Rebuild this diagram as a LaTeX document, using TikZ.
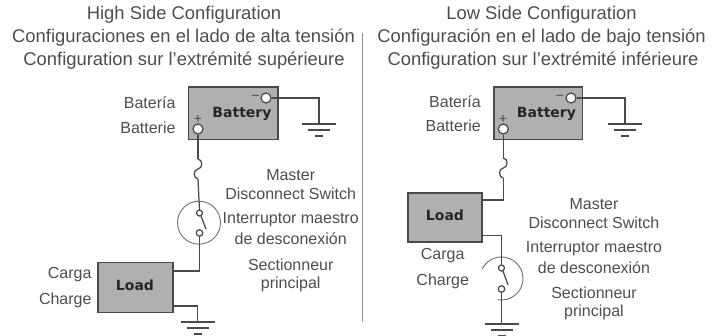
\documentclass[tikz,border=0pt]{standalone}
\usepackage{fontspec}
\setmainfont{Liberation Sans}
\newfontfamily\boxfont{DejaVu Sans Bold}
\definecolor{wire}{HTML}{4A4A4A}
\definecolor{boxfill}{HTML}{B0B0B0}
\definecolor{txt}{HTML}{4D4D4D}
\tikzset{
  wirel/.style={draw=wire,line width=1.25pt},
  devbox/.style={draw=wire,fill=boxfill,line width=1.25pt,rectangle,inner sep=0pt},
  term/.style={circle,draw=wire,fill=white,line width=1.25pt,inner sep=0pt,minimum size=#1},
  lab/.style={text=txt,font=\fontsize{16}{18}\selectfont,inner sep=0pt,align=center},
  ttl/.style={text=txt,font=\fontsize{18.4}{20}\selectfont,inner sep=0pt,align=center},
  boxlab/.style={text=black!85,font=\boxfont\fontsize{14}{16}\selectfont,inner sep=0pt},
  sign/.style={text=txt,font=\fontsize{14}{14}\selectfont,inner sep=0pt},
}
\newcommand{\gnd}[2]{%
  \draw[wirel] (#1-17,#2) -- (#1+17,#2);
  \draw[wirel] (#1-11,#2+6) -- (#1+11,#2+6);
  \draw[wirel] (#1-4,#2+12) -- (#1+4,#2+12);
}
\newcommand{\fuse}[2]{% x, top y
  \draw[wirel] (#1,#2) .. controls (#1+5,#2+0.5) and (#1+5,#2+9.5) .. (#1,#2+10)
     .. controls (#1-5,#2+10.5) and (#1-5,#2+19.5) .. (#1,#2+20);
}
\begin{document}
\begin{tikzpicture}[x=1pt,y=-1pt]
\useasboundingbox (0,0) rectangle (724,336);
% titles
\node[ttl] (t1a) at (184,15) {High Side Configuration};
\node[ttl] (t1b) at (183.5,38) {Configuraciones en el lado de alta tensión};
\node[ttl] (t1c) at (184,61) {Configuration sur l’extrémité supérieure};
\node[ttl] (t2a) at (541.5,15) {Low Side Configuration};
\node[ttl] (t2b) at (541.5,38) {Configuración en el lado de bajo tensión};
\node[ttl] (t2c) at (543,61) {Configuration sur l’extrémité inférieure};
\draw[draw=wire!60,line width=1pt] (362,33) -- (362,322);
% ---- left
\node[devbox,minimum width=89.5pt,minimum height=52.5pt] (bat1) at (233.2,113.2) {};
\node[boxlab] (bat1t) at (242,114) {Battery};
\node[sign] (m1) at (255.5,98) {−};
\node[sign] (p1) at (198,119) {+};
\node[term=10pt] (tm1) at (266,98) {};
\node[term=10pt] (tp1) at (198,129) {};
\coordinate (g1) at (319,124);
\draw[wirel] (tm1) -- (319,98) -- (g1);
\gnd{319}{124}
\coordinate (f1a) at (198,159);
\coordinate (f1b) at (198,179);
\draw[wirel] (tp1) -- (f1a);
\fuse{198}{159}
\node[circle,draw=wire!80,line width=.9pt,minimum size=43pt,inner sep=0pt] (sw1) at (199,222.7) {};
\draw[wirel] (f1b) -- (199.5,210);
\node[term=6pt] (s1a) at (199.5,213) {};
\node[term=6.5pt] (s1b) at (199.5,233) {};
\draw[wirel] (s1a) ++(1.5,3) -- (206,229);
\node[devbox,minimum width=75pt,minimum height=49.5pt] (load1) at (135.4,287.5) {};
\node[boxlab] (load1t) at (135,285.7) {Load};
\draw[wirel] (s1b) -- (199.5,271) -- (load1.east |- 0,271);
\draw[wirel] (load1.east |- 0,306) -- (197.7,306) -- (197.7,322);
\gnd{197.7}{322}
% left labels
\node[lab,anchor=east] (l1) at (175.7,103) {Batería};
\node[lab,anchor=east] (l2) at (175.7,128) {Batterie};
\node[lab,anchor=east] (l3) at (91.7,275) {Carga};
\node[lab,anchor=east] (l4) at (91.7,300) {Charge};
\node[lab] (l5) at (290.7,175) {Master};
\node[lab] (l6) at (290.7,194) {Disconnect Switch};
\node[lab] (l7) at (290.7,220) {Interruptor maestro};
\node[lab] (l8) at (290.7,239) {de desconexión};
\node[lab] (l9) at (290.7,265) {Sectionneur};
\node[lab] (l10) at (290.7,284) {principal};
% ---- right
\node[devbox,minimum width=88.7pt,minimum height=52.5pt] (bat2) at (538.3,113.2) {};
\node[boxlab] (bat2t) at (546.5,114) {Battery};
\node[sign] (m2) at (560,98) {−};
\node[sign] (p2) at (503.3,119) {+};
\node[term=10pt] (tm2) at (571,98) {};
\node[term=10pt] (tp2) at (503.3,129) {};
\coordinate (g2) at (625,124);
\draw[wirel] (tm2) -- (625,98) -- (g2);
\gnd{625}{124}
\coordinate (f2a) at (503.3,158);
\coordinate (f2b) at (503.3,178);
\draw[wirel] (tp2) -- (f2a);
\fuse{503.3}{158}
\node[devbox,minimum width=74pt,minimum height=49pt] (load2) at (445,217.5) {};
\node[boxlab] (load2t) at (445,215.5) {Load};
\draw[wirel] (f2b) -- (503.3,200) -- (load2.east |- 0,200);
\coordinate (sw2) at (501.5,278.5);
\draw[draw=wire!80,line width=.9pt] (sw2) ++(100:21.5) arc[start angle=-100,end angle=155,radius=21.5pt];
\draw[wirel] (load2.east |- 0,235.7) -- (501.5,235.7) -- (501.5,265);
\node[term=6pt] (s2a) at (501.5,268) {};
\node[term=6.5pt] (s2b) at (501.5,289) {};
\draw[wirel] (s2a) ++(1.5,3) -- (508,285);
\draw[wirel] (s2b) -- (501.5,324);
\gnd{501.5}{324}
\node[lab,anchor=east] (r1) at (481,102) {Batería};
\node[lab,anchor=east] (r2) at (481,126) {Batterie};
\node[lab] (r3) at (442.7,256) {Carga};
\node[lab] (r4) at (442.7,281.7) {Charge};
\node[lab] (r5) at (594,204) {Master};
\node[lab] (r6) at (594,223) {Disconnect Switch};
\node[lab] (r7) at (594,249) {Interruptor maestro};
\node[lab] (r8) at (594,268) {de desconexión};
\node[lab] (r9) at (594,293) {Sectionneur};
\node[lab] (r10) at (594,312) {principal};
\end{tikzpicture}
\end{document}
